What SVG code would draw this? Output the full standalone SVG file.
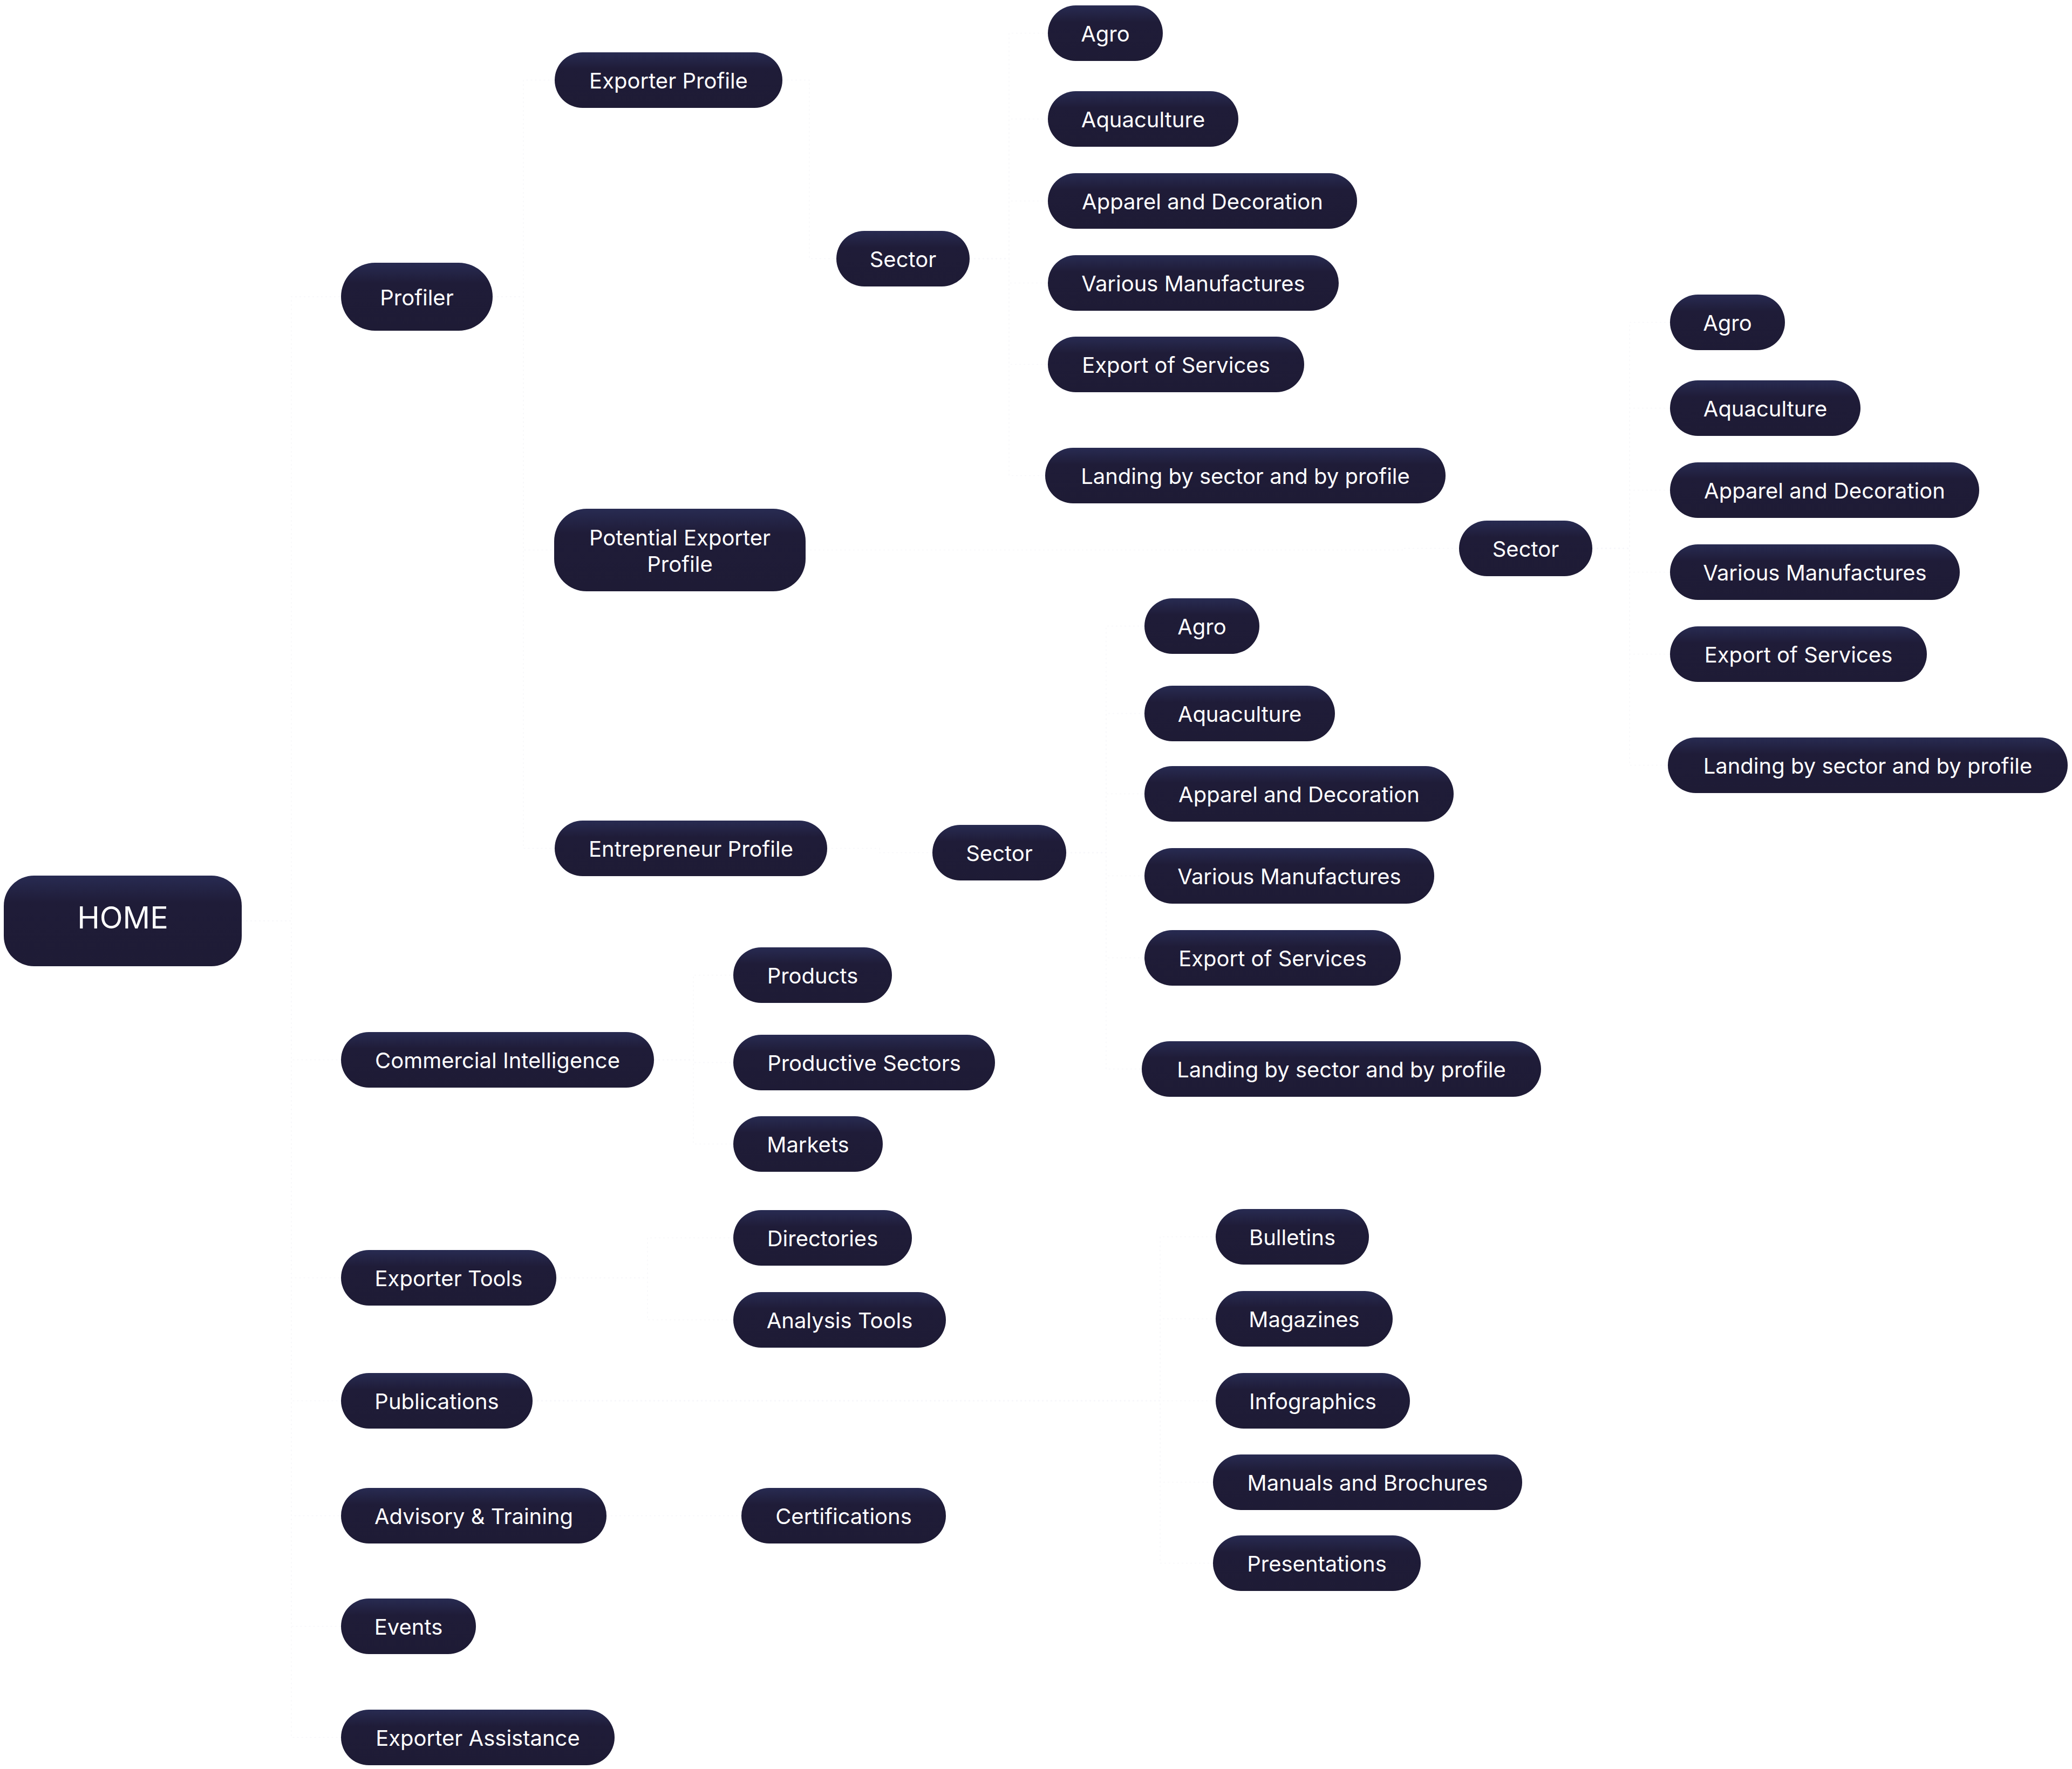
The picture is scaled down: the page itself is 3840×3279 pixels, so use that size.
<svg xmlns="http://www.w3.org/2000/svg" width="3840" height="3279" viewBox="0 0 3840 3279">
<defs>
<linearGradient id="pill" x1="0" y1="0" x2="0" y2="1">
<stop offset="0" stop-color="#282b52"/>
<stop offset="0.3" stop-color="#1f1c38"/>
<stop offset="1" stop-color="#1e1b35"/>
</linearGradient>
</defs>
<style>
.node{fill:url(#pill);}
.lbl{fill:#ffffff;font-family:Inter,"Liberation Sans",sans-serif;font-size:40px;text-anchor:middle;}
.home{font-size:56px;}
.conn{fill:none;stroke:#f8f8fa;stroke-width:1.5;stroke-dasharray:3 5;}
</style>
<rect x="0" y="0" width="3840" height="3279" fill="#ffffff"/>
<g id="connectors">
<path class="conn" d="M448 1707 H540 V550 H632"/>
<path class="conn" d="M448 1707 H540 V1964.5 H632"/>
<path class="conn" d="M448 1707 H540 V2368.5 H632"/>
<path class="conn" d="M448 1707 H540 V2596.5 H632"/>
<path class="conn" d="M448 1707 H540 V2809.5 H632"/>
<path class="conn" d="M448 1707 H540 V3014.5 H632"/>
<path class="conn" d="M448 1707 H540 V3220.5 H632"/>
<path class="conn" d="M913 550 H970 V148.5 H1028"/>
<path class="conn" d="M913 550 H970 V1019.5 H1027"/>
<path class="conn" d="M913 550 H970 V1572.5 H1028"/>
<path class="conn" d="M1450 148.5 H1500 V479.5 H1550"/>
<path class="conn" d="M1797 479.5 H1870 V61.5 H1942"/>
<path class="conn" d="M1797 479.5 H1870 V220.5 H1942"/>
<path class="conn" d="M1797 479.5 H1870 V372.5 H1942"/>
<path class="conn" d="M1797 479.5 H1870 V524.5 H1942"/>
<path class="conn" d="M1797 479.5 H1870 V675.5 H1942"/>
<path class="conn" d="M1797 479.5 H1870 V881.5 H1937"/>
<path class="conn" d="M1493 1019.5 H2600 V1016.5 H2704"/>
<path class="conn" d="M2951 1016.5 H3020 V597.5 H3095"/>
<path class="conn" d="M2951 1016.5 H3020 V756.5 H3095"/>
<path class="conn" d="M2951 1016.5 H3020 V908.5 H3095"/>
<path class="conn" d="M2951 1016.5 H3020 V1060.5 H3095"/>
<path class="conn" d="M2951 1016.5 H3020 V1212.5 H3095"/>
<path class="conn" d="M2951 1016.5 H3020 V1418.5 H3087"/>
<path class="conn" d="M1533 1572.5 H1630 V1580.5 H1728"/>
<path class="conn" d="M1976 1580.5 H2050 V1160.5 H2121"/>
<path class="conn" d="M1976 1580.5 H2050 V1322.5 H2121"/>
<path class="conn" d="M1976 1580.5 H2050 V1471.5 H2121"/>
<path class="conn" d="M1976 1580.5 H2050 V1623.5 H2121"/>
<path class="conn" d="M1976 1580.5 H2050 V1775.5 H2121"/>
<path class="conn" d="M1976 1580.5 H2050 V1981.5 H2116"/>
<path class="conn" d="M1212 1964.5 H1285 V1807.5 H1359"/>
<path class="conn" d="M1212 1964.5 H1285 V1969.5 H1359"/>
<path class="conn" d="M1212 1964.5 H1285 V2120.5 H1359"/>
<path class="conn" d="M1031 2368.5 H1200 V2294.5 H1359"/>
<path class="conn" d="M1031 2368.5 H1200 V2446.5 H1359"/>
<path class="conn" d="M987 2596.5 H2150 V2292.5 H2253"/>
<path class="conn" d="M987 2596.5 H2150 V2444.5 H2253"/>
<path class="conn" d="M987 2596.5 H2150 V2596.5 H2253"/>
<path class="conn" d="M987 2596.5 H2150 V2747.5 H2248"/>
<path class="conn" d="M987 2596.5 H2150 V2897.5 H2248"/>
<path class="conn" d="M1124 2809.5 H1374"/>
</g>
<g id="home"><rect class="node" x="7" y="1623" width="441" height="168" rx="56"/><text class="lbl home" x="227.5" y="1721">HOME</text></g>
<g id="profiler"><rect class="node" x="632" y="487" width="281" height="126" rx="63"/><text class="lbl" x="772.5" y="566">Profiler</text></g>
<g id="exporter-profile"><rect class="node" x="1028" y="97" width="422" height="103" rx="51.5"/><text class="lbl" x="1239" y="164">Exporter Profile</text></g>
<g id="potential-exporter-profile"><rect class="node" x="1027" y="943" width="466" height="153" rx="60"/><text class="lbl" x="1260" y="1011">Potential Exporter</text><text class="lbl" x="1260" y="1060">Profile</text></g>
<g id="entrepreneur-profile"><rect class="node" x="1028" y="1521" width="505" height="103" rx="51.5"/><text class="lbl" x="1280.5" y="1588">Entrepreneur Profile</text></g>
<g id="sector-1"><rect class="node" x="1550" y="428" width="247" height="103" rx="51.5"/><text class="lbl" x="1673.5" y="495">Sector</text></g>
<g id="sector-2"><rect class="node" x="2704" y="965" width="247" height="103" rx="51.5"/><text class="lbl" x="2827.5" y="1032">Sector</text></g>
<g id="sector-3"><rect class="node" x="1728" y="1529" width="248" height="103" rx="51.5"/><text class="lbl" x="1852" y="1596">Sector</text></g>
<g id="s1-agro"><rect class="node" x="1942" y="10" width="213" height="103" rx="51.5"/><text class="lbl" x="2048.5" y="77">Agro</text></g>
<g id="s1-aquaculture"><rect class="node" x="1942" y="169" width="353" height="103" rx="51.5"/><text class="lbl" x="2118.5" y="236">Aquaculture</text></g>
<g id="s1-apparel"><rect class="node" x="1942" y="321" width="573" height="103" rx="51.5"/><text class="lbl" x="2228.5" y="388">Apparel and Decoration</text></g>
<g id="s1-various"><rect class="node" x="1942" y="473" width="539" height="103" rx="51.5"/><text class="lbl" x="2211.5" y="540">Various Manufactures</text></g>
<g id="s1-export-services"><rect class="node" x="1942" y="624" width="475" height="103" rx="51.5"/><text class="lbl" x="2179.5" y="691">Export of Services</text></g>
<g id="s1-landing"><rect class="node" x="1937" y="830" width="742" height="103" rx="51.5"/><text class="lbl" x="2308" y="897">Landing by sector and by profile</text></g>
<g id="s2-agro"><rect class="node" x="3095" y="546" width="213" height="103" rx="51.5"/><text class="lbl" x="3201.5" y="613">Agro</text></g>
<g id="s2-aquaculture"><rect class="node" x="3095" y="705" width="353" height="103" rx="51.5"/><text class="lbl" x="3271.5" y="772">Aquaculture</text></g>
<g id="s2-apparel"><rect class="node" x="3095" y="857" width="573" height="103" rx="51.5"/><text class="lbl" x="3381.5" y="924">Apparel and Decoration</text></g>
<g id="s2-various"><rect class="node" x="3095" y="1009" width="537" height="103" rx="51.5"/><text class="lbl" x="3363.5" y="1076">Various Manufactures</text></g>
<g id="s2-export-services"><rect class="node" x="3095" y="1161" width="476" height="103" rx="51.5"/><text class="lbl" x="3333" y="1228">Export of Services</text></g>
<g id="s2-landing"><rect class="node" x="3091" y="1367" width="741" height="103" rx="51.5"/><text class="lbl" x="3461.5" y="1434">Landing by sector and by profile</text></g>
<g id="s3-agro"><rect class="node" x="2121" y="1109" width="213" height="103" rx="51.5"/><text class="lbl" x="2227.5" y="1176">Agro</text></g>
<g id="s3-aquaculture"><rect class="node" x="2121" y="1271" width="353" height="103" rx="51.5"/><text class="lbl" x="2297.5" y="1338">Aquaculture</text></g>
<g id="s3-apparel"><rect class="node" x="2121" y="1420" width="573" height="103" rx="51.5"/><text class="lbl" x="2407.5" y="1487">Apparel and Decoration</text></g>
<g id="s3-various"><rect class="node" x="2121" y="1572" width="537" height="103" rx="51.5"/><text class="lbl" x="2389.5" y="1639">Various Manufactures</text></g>
<g id="s3-export-services"><rect class="node" x="2121" y="1724" width="475" height="103" rx="51.5"/><text class="lbl" x="2358.5" y="1791">Export of Services</text></g>
<g id="s3-landing"><rect class="node" x="2116" y="1930" width="740" height="103" rx="51.5"/><text class="lbl" x="2486" y="1997">Landing by sector and by profile</text></g>
<g id="commercial-intelligence"><rect class="node" x="632" y="1913" width="580" height="103" rx="51.5"/><text class="lbl" x="922" y="1980">Commercial Intelligence</text></g>
<g id="products"><rect class="node" x="1359" y="1756" width="294" height="103" rx="51.5"/><text class="lbl" x="1506" y="1823">Products</text></g>
<g id="productive-sectors"><rect class="node" x="1359" y="1918" width="485" height="103" rx="51.5"/><text class="lbl" x="1601.5" y="1985">Productive Sectors</text></g>
<g id="markets"><rect class="node" x="1359" y="2069" width="277" height="103" rx="51.5"/><text class="lbl" x="1497.5" y="2136">Markets</text></g>
<g id="directories"><rect class="node" x="1359" y="2243" width="331" height="103" rx="51.5"/><text class="lbl" x="1524.5" y="2310">Directories</text></g>
<g id="analysis-tools"><rect class="node" x="1359" y="2395" width="394" height="103" rx="51.5"/><text class="lbl" x="1556" y="2462">Analysis Tools</text></g>
<g id="exporter-tools"><rect class="node" x="632" y="2317" width="399" height="103" rx="51.5"/><text class="lbl" x="831.5" y="2384">Exporter Tools</text></g>
<g id="publications"><rect class="node" x="632" y="2545" width="355" height="103" rx="51.5"/><text class="lbl" x="809.5" y="2612">Publications</text></g>
<g id="advisory-training"><rect class="node" x="632" y="2758" width="492" height="103" rx="51.5"/><text class="lbl" x="878" y="2825">Advisory &amp; Training</text></g>
<g id="certifications"><rect class="node" x="1374" y="2758" width="379" height="103" rx="51.5"/><text class="lbl" x="1563.5" y="2825">Certifications</text></g>
<g id="events"><rect class="node" x="632" y="2963" width="250" height="103" rx="51.5"/><text class="lbl" x="757" y="3030">Events</text></g>
<g id="exporter-assistance"><rect class="node" x="632" y="3169" width="507" height="103" rx="51.5"/><text class="lbl" x="885.5" y="3236">Exporter Assistance</text></g>
<g id="bulletins"><rect class="node" x="2253" y="2241" width="284" height="103" rx="51.5"/><text class="lbl" x="2395" y="2308">Bulletins</text></g>
<g id="magazines"><rect class="node" x="2253" y="2393" width="328" height="103" rx="51.5"/><text class="lbl" x="2417" y="2460">Magazines</text></g>
<g id="infographics"><rect class="node" x="2253" y="2545" width="360" height="103" rx="51.5"/><text class="lbl" x="2433" y="2612">Infographics</text></g>
<g id="manuals-brochures"><rect class="node" x="2248" y="2696" width="573" height="103" rx="51.5"/><text class="lbl" x="2534.5" y="2763">Manuals and Brochures</text></g>
<g id="presentations"><rect class="node" x="2248" y="2846" width="385" height="103" rx="51.5"/><text class="lbl" x="2440.5" y="2913">Presentations</text></g>
</svg>
